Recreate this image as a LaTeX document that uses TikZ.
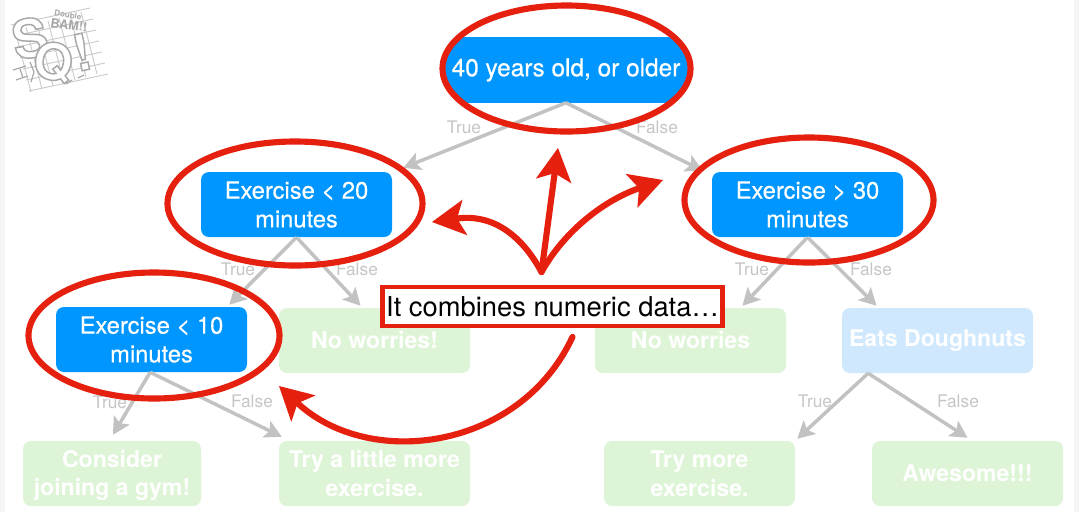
\documentclass[tikz,border=0pt]{standalone}
\usepackage{fontspec}
\setmainfont{TeX Gyre Heros}
\usetikzlibrary{arrows.meta}

\definecolor{blueBox}{HTML}{0096FF}
\definecolor{paleBlue}{HTML}{CFE8FD}
\definecolor{paleGreen}{HTML}{DEF4D6}
\definecolor{edgeGrey}{HTML}{C2C2C2}
\definecolor{labelGrey}{HTML}{C6C6C6}
\definecolor{ringRed}{HTML}{E5200F}
\definecolor{logoGrey}{HTML}{A8A8A8}

% outlined letters for the logo
\newcommand{\outlined}[1]{\special{pdf:code 2 Tr 1.1 w 0.66 0.66 0.66 RG}#1\special{pdf:code 0 Tr}}

\tikzset{
    decision/.style={fill=blueBox,text=white,rounded corners=6,minimum width=143.25pt,minimum height=48.75pt,
        inner sep=0pt,align=center,font=\fontsize{17.8}{21.5}\selectfont\addfontfeature{FakeBold=0.5}},
    faded/.style={decision,fill=paleGreen,font=\fontsize{17.3}{21.5}\selectfont\bfseries},
    edge/.style={draw=edgeGrey,line width=2.6,-{Stealth[length=13,width=14,inset=3,line width=0pt]}},
    answer/.style={text=labelGrey,inner sep=0pt,font=\fontsize{13}{15}\selectfont},
    ring/.style={draw=ringRed,line width=4.6},
    pointer/.style={draw=ringRed,line width=4.6,line cap=round,-{Stealth[length=25,width=27,inset=6,line width=0pt]}},
    logoline/.style={draw=logoGrey!60,line width=0.7},
    logotext/.style={text=white,inner sep=0pt}
}

\begin{document}
\begin{tikzpicture}[x=0.75pt,y=0.75pt,yscale=-1,xscale=1]
    \useasboundingbox (0,0) rectangle (1079,512);
    \fill [black!4] (0,0) rectangle (1079,512);
    \fill [white] (5,0) rectangle (1074,512);

    % Logo
    \foreach \i in {0,...,6}{
        \draw [logoline] (15+\i*11,30-\i*3) -- (31+\i*11,92-\i*3);
        \draw [logoline] (11+\i*3,25+\i*11) -- (90+\i*3,8+\i*11);
    }
    \draw [logoGrey,line width=0.9] (13,70) -- (26,66) (16,80) -- (28,76) (20,69) -- (23,78)
        (30,62) -- (34,72) -- (31,82) (66,84) -- (72,80) (78,78) -- (84,75);
    \node (logoS) at (30,38) [logotext,rotate=10,font=\fontsize{40}{40}\selectfont\bfseries] {\outlined{S}};
    \node (logoQ) at (53,62) [logotext,rotate=-8,font=\fontsize{38}{38}\selectfont\bfseries] {\outlined{Q}};
    \node (logoMark) at (82,52) [logotext,rotate=12,font=\fontsize{38}{38}\selectfont\bfseries] {\outlined{!}};
    \node (logoDouble) at (68,15) [rotate=-8,text=logoGrey,inner sep=0pt,font=\fontsize{6}{6}\selectfont\bfseries] {Double};
    \node (logoBam) at (69,25) [rotate=-8,text=logoGrey,inner sep=0pt,font=\fontsize{9.5}{9.5}\selectfont\bfseries] {BAM!!};

    % Boxes
    \begin{scope}
        \clip (566.5,68.5) circle [x radius=124,y radius=63];
        \fill [blueBox] (440,37) rectangle (692,103);
    \end{scope}
    \node (age) at (566,70) [decision,fill=none,minimum width=181.5pt,font=\fontsize{18.3}{21.5}\selectfont\addfontfeature{FakeBold=0.5}] {\raisebox{-2.8pt}{40 years old, or older}};
    \node (exTwenty) at (296.5,204.5) [decision] {Exercise < 20\\minutes};
    \node (exThirty) at (807.5,204.5) [decision] {Exercise > 30\\minutes};
    \node (exTen) at (151.5,339.5) [decision] {Exercise < 10\\minutes};
    \node (worriesA) at (374.5,340.5) [faded] {No worries!};
    \node (worriesB) at (690.5,340.5) [faded] {No worries};
    \node (doughnuts) at (937.5,340.5) [faded,fill=paleBlue] {Eats Doughnuts};
    \node (gym) at (112,473.5) [faded,minimum width=133.5pt] {\rule{0pt}{16pt}Consider\\joining a gym!};
    \node (little) at (374.5,473.5) [faded] {Try a little more\\exercise.};
    \node (more) at (699.5,473.5) [faded] {Try more\\exercise.};
    \node (awesome) at (967.5,473.5) [faded] {Awesome!!!};

    % Edges
    \draw [edge] (age.south) -- ([shift={(11,-4)}]exTwenty.north east);
    \draw [edge] (age.south) -- ([shift={(-9,-1)}]exThirty.north west);
    \draw [edge] (exTwenty.south) -- ([shift={(-18,-2)}]exTen.north east);
    \draw [edge] (exTwenty.south) -- ([shift={(-14,-2)}]worriesA.north);
    \draw [edge] (exThirty.south) -- ([shift={(52,-2)}]worriesB.north);
    \draw [edge] (exThirty.south) -- ([shift={(-61,-2)}]doughnuts.north);
    \draw [edge] ([xshift=-1]exTen.south) -- ([shift={(1,-6)}]gym.north);
    \draw [edge] ([xshift=-1]exTen.south) -- ([shift={(3,-4)}]little.north west);
    \draw [edge] ([xshift=-52]doughnuts.south) -- ([shift={(2,-2)}]more.north east);
    \draw [edge] ([xshift=-52]doughnuts.south) -- ([shift={(0,-3)}]awesome.north);

    % Edge labels
    \node (tA) at (464,127) [answer] {True};
    \node (fA) at (657,127) [answer] {False};
    \node (tB) at (238,269) [answer] {True};
    \node (fB) at (357,269) [answer] {False};
    \node (tC) at (752,269) [answer] {True};
    \node (fC) at (871,269) [answer] {False};
    \node (tD) at (110,402) [answer] {True};
    \node (fD) at (252,401) [answer] {False};
    \node (tE) at (815,401) [answer] {True};
    \node (fE) at (958,401) [answer] {False};

    % Rings
    \draw [ring] (566.5,68.5) circle [x radius=124,y radius=63];
    \draw [ring] (295,203.5) circle [x radius=127.5,y radius=62];
    \draw [ring] (809,200) circle [x radius=124.5,y radius=62.5];
    \draw [ring] (154,335.5) circle [x radius=125.5,y radius=63];

    % Callout
    \node (callout) at (552.5,306.5) [draw=ringRed,line width=3.2,fill=white,text=black,minimum width=255pt,minimum height=29pt,inner sep=0pt,font=\fontsize{20.5}{25}\selectfont] {\raisebox{-2.6pt}{It combines numeric data…}};
    \draw [pointer] ([shift={(-11,-13)}]callout.north) -- (558,148);
    \draw [pointer] ([shift={(-11,-13)}]callout.north) .. controls (520,232) and (490,214) .. (432,222);
    \draw [pointer] ([shift={(-11,-13)}]callout.north) .. controls (565,230) and (605,200) .. (663,180);
    \draw [pointer] ([shift={(20,9)}]callout.south) .. controls (520,450) and (370,470) .. (279,386);
\end{tikzpicture}
\end{document}
